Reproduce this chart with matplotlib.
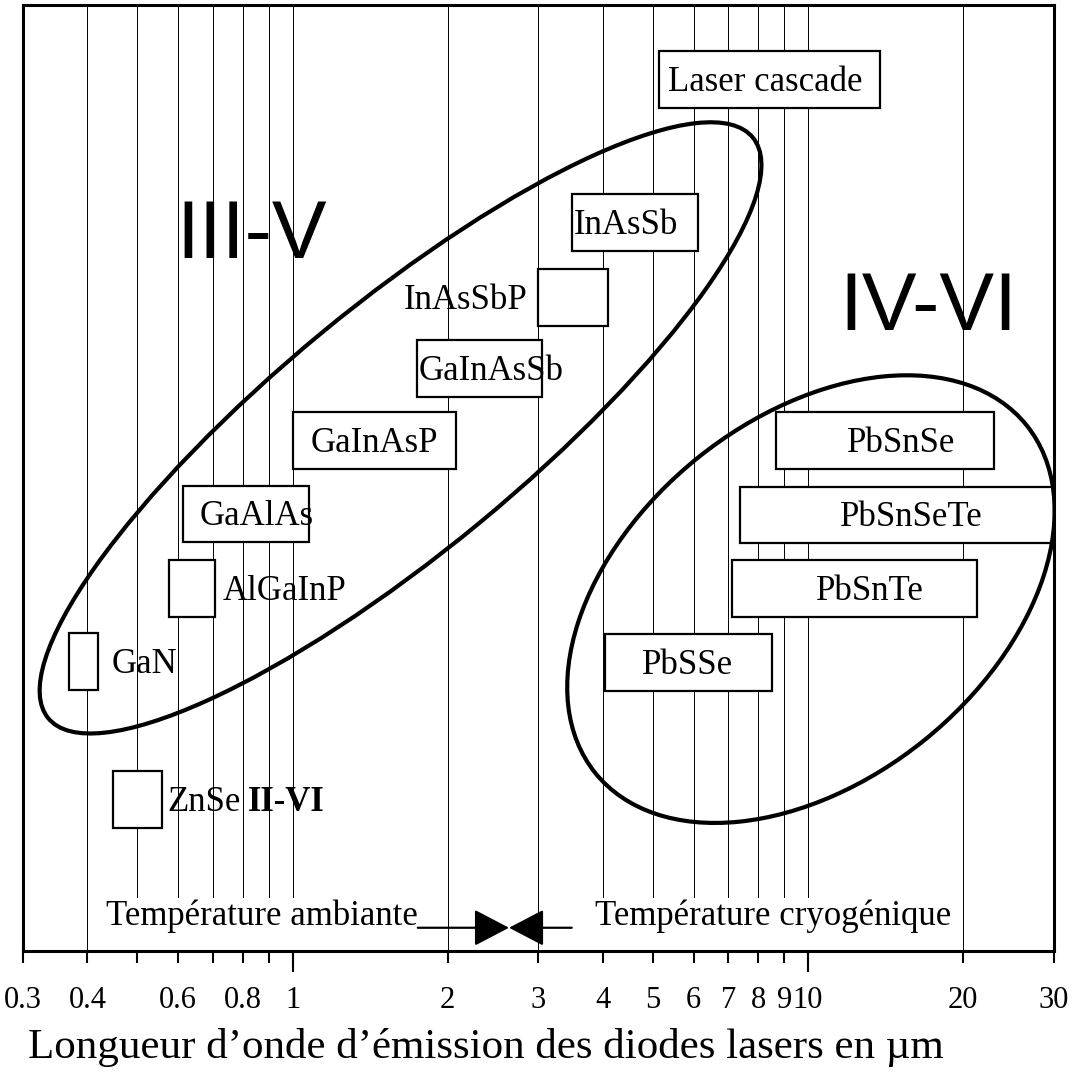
import matplotlib.pyplot as plt
import matplotlib.transforms as mtransforms
from matplotlib.patches import Rectangle, Ellipse
from matplotlib.patches import ArrowStyle
from matplotlib.ticker import FixedLocator, NullFormatter

plt.rcParams['font.family'] = ['Liberation Serif', 'DejaVu Serif']

# laser diode materials: emission range in um, and the level of each box
materials = ['Laser cascade', 'InAsSb', 'InAsSbP', 'GaInAsSb', 'GaInAsP', 'GaAlAs',
             'AlGaInP', 'GaN', 'ZnSe', 'PbSnSe', 'PbSnSeTe', 'PbSnTe', 'PbSSe']
wl_min = [5.15, 3.48, 3.0, 1.74, 1.0, 0.613, 0.576, 0.368, 0.448, 8.66, 7.37, 7.11, 4.04]
wl_max = [13.8, 6.12, 4.09, 3.05, 2.08, 1.076, 0.707, 0.419, 0.559, 23.0, 30.0, 21.25, 8.51]
level = [89.1, 74.0, 66.1, 58.6, 51.0, 43.2, 35.3, 27.6, 13.0, 51.0, 43.1, 35.3, 27.5]

# where the name goes (um) and how it is anchored
label_x = [8.26, 4.43, 2.85, 2.43, 1.44, 0.853, 0.733, 0.446, 0.571, 15.17, 15.83, 13.18, 5.85]
label_ha = ['center', 'center', 'right', 'center', 'center', 'center', 'left', 'left', 'left',
            'center', 'center', 'center', 'center']

# families
groups = ['III-V', 'IV-VI']
group_x = [0.834, 17.15]
group_y = [73.25, 65.6]
ell_cx = [1.62, 10.13]
ell_cy = [55.3, 37.2]
ell_w = [9.13, 5.54]      # inches
ell_h = [2.47, 3.62]
ell_ang = [39.5, 38.9]

ticks = [0.3, 0.4, 0.5, 0.6, 0.7, 0.8, 0.9, 1, 2, 3, 4, 5, 6, 7, 8, 9, 10, 20, 30]
tick_labels = ['0.3', '0.4', '', '0.6', '', '0.8', '', '1', '2', '3', '4', '5', '6',
               '7', '8', '9', '10', '20', '30']
gridlines = [0.4, 0.5, 0.6, 0.7, 0.8, 0.9, 1, 2, 3, 4, 5, 6, 7, 8, 9, 10, 20]

fig = plt.figure(figsize=(10.8, 10.9), dpi=100)
ax = fig.add_axes([0.0213, 0.1275, 0.9546, 0.8679])
ax.set_xscale('log')
ax.set_xlim(0.3, 30)
ax.set_ylim(0, 100)

for g in gridlines:
    short = (0.45 < g < 1.75) or (3.5 < g < 12)
    ax.axvline(g, ymin=0.057 if short else 0, color='black', lw=0.7, zorder=1)

box_h = 6.0
for i, name in enumerate(materials):
    ax.add_patch(Rectangle((wl_min[i], level[i]), wl_max[i] - wl_min[i], box_h,
                           facecolor='white', edgecolor='black', lw=1.6, zorder=2))
    ax.text(label_x[i], level[i] + box_h / 2 - 1.2, name, ha=label_ha[i], va='baseline',
            fontsize=25, zorder=4)

ax.text(0.82, 13.0 + box_h / 2 - 1.2, 'II-VI', ha='left', va='baseline', fontsize=25,
        fontweight='bold', zorder=4)

for i, g in enumerate(groups):
    ax.text(group_x[i], group_y[i], g, ha='center', va='baseline', fontsize=59,
            family='Liberation Sans', zorder=4)
    tr = fig.dpi_scale_trans + mtransforms.ScaledTranslation(ell_cx[i], ell_cy[i], ax.transData)
    ax.add_patch(Ellipse((0, 0), ell_w[i], ell_h[i], angle=ell_ang[i], transform=tr,
                         fill=False, edgecolor='black', lw=3, zorder=3))

# temperature arrows
ax.text(1.75, 2.75, 'Température ambiante', ha='right', va='baseline', fontsize=25)
ax.text(3.87, 2.75, 'Température cryogénique', ha='left', va='baseline', fontsize=25)
style = ArrowStyle('-|>', head_length=2.2, head_width=1.15)
ax.annotate('', xy=(2.63, 2.46), xytext=(1.75, 2.46),
            arrowprops=dict(arrowstyle=style, mutation_scale=10, lw=1.6, color='black',
                            shrinkA=0, shrinkB=0))
ax.annotate('', xy=(2.63, 2.46), xytext=(3.48, 2.46),
            arrowprops=dict(arrowstyle=style, mutation_scale=10, lw=1.6, color='black',
                            shrinkA=0, shrinkB=0))

ax.xaxis.remove_overlapping_locs = False
ax.xaxis.set_major_locator(FixedLocator(ticks))
ax.set_xticklabels(tick_labels)
ax.xaxis.set_minor_locator(FixedLocator([1, 10]))
ax.xaxis.set_minor_formatter(NullFormatter())
ax.tick_params(axis='x', which='major', length=8.6, width=1.5, pad=16.5, labelsize=22)
ax.tick_params(axis='x', which='minor', length=15, width=1.5)
ax.set_yticks([])
for s in ax.spines.values():
    s.set_linewidth(2.2)

fig.text(0.026, 1 - 1058 / 1090, 'Longueur d’onde d’émission des diodes lasers en µm',
         fontsize=31, va='baseline')

fig.savefig('out.png', dpi=100)
